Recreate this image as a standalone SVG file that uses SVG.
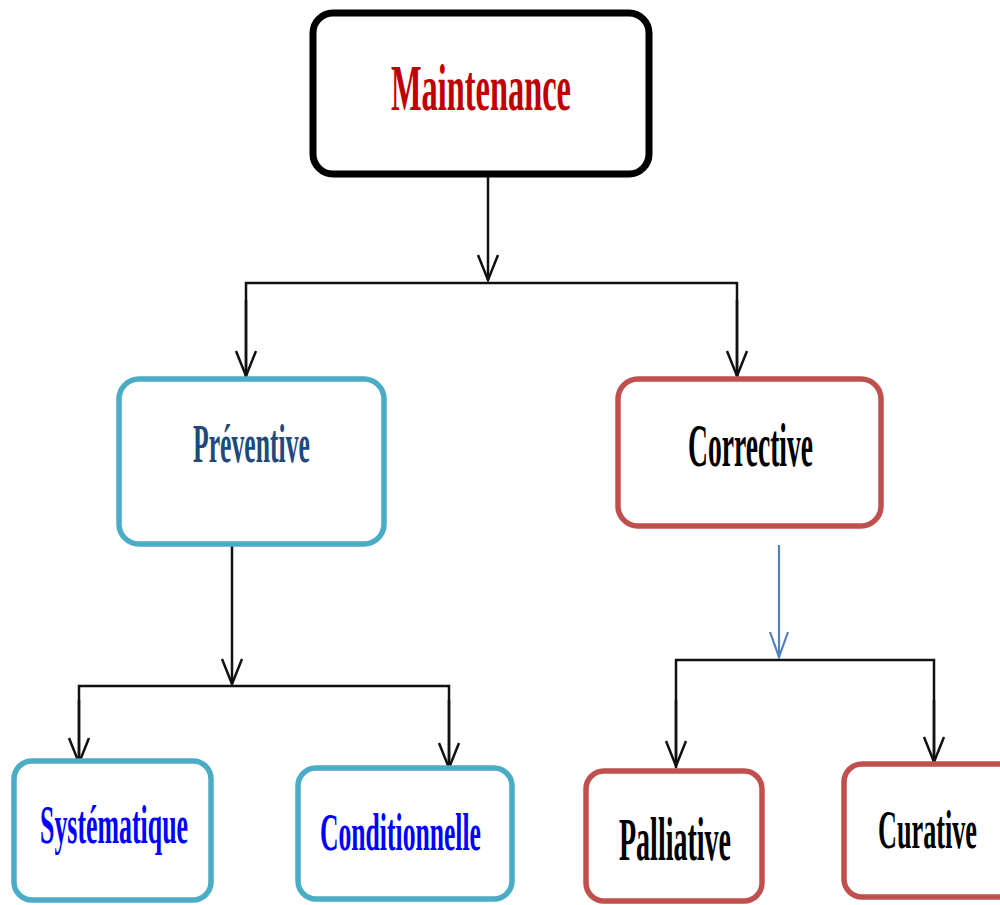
<svg xmlns="http://www.w3.org/2000/svg" width="1000" height="905" viewBox="0 0 1000 905">
<defs>
<marker id="arr" viewBox="-27 -12 30 24" markerWidth="30" markerHeight="24" refX="0" refY="0" orient="auto" markerUnits="userSpaceOnUse">
<path d="M-25,-10 L0,0 L-25,10" fill="none" stroke="#111" stroke-width="2.5"/>
</marker>
<marker id="arrb" viewBox="-27 -12 30 24" markerWidth="30" markerHeight="24" refX="0" refY="0" orient="auto" markerUnits="userSpaceOnUse">
<path d="M-25,-9 L0,0 L-25,9" fill="none" stroke="#4F81BD" stroke-width="2.2"/>
</marker>
</defs>
<style>
.box{fill:#fff}
.blk{stroke:#000;stroke-width:7}
.blu{stroke:#4BACC6;stroke-width:5.5}
.red{stroke:#C0504D;stroke-width:5.5}
.t{font-family:"Liberation Serif","Times New Roman",serif;font-weight:bold;text-anchor:start}
.c{fill:none;stroke:#111;stroke-width:2.5}
</style>
<g id="connectors">
<path class="c" d="M488,175 V280" marker-end="url(#arr)"/>
<path class="c" d="M246,378 V283 H737 V378" />
<path class="c" d="M246,300 V376" marker-end="url(#arr)"/>
<path class="c" d="M737,300 V376" marker-end="url(#arr)"/>
<path class="c" d="M232,545 V684" marker-end="url(#arr)"/>
<path class="c" d="M79,765 V686 H449 V770"/>
<path class="c" d="M79,700 V763" marker-end="url(#arr)"/>
<path class="c" d="M449,700 V768" marker-end="url(#arr)"/>
<path d="M779,545 V657" fill="none" stroke="#4F81BD" stroke-width="2.2" marker-end="url(#arrb)"/>
<path class="c" d="M676,768 V660 H934 V764"/>
<path class="c" d="M676,700 V766" marker-end="url(#arr)"/>
<path class="c" d="M934,700 V762" marker-end="url(#arr)"/>
</g>
<g id="maintenance">
<rect class="box blk" x="313" y="13" width="336" height="161" rx="20"/>
<text class="t" x="391" y="110" font-size="66" fill="#C00000" textLength="180" lengthAdjust="spacingAndGlyphs">Maintenance</text>
</g>
<g id="preventive">
<rect class="box blu" x="119" y="379" width="265" height="165" rx="20"/>
<text class="t" x="193" y="462" font-size="55" fill="#1F497D" textLength="117" lengthAdjust="spacingAndGlyphs">Préventive</text>
</g>
<g id="corrective">
<rect class="box red" x="618" y="379" width="263" height="147" rx="20"/>
<text class="t" x="688" y="466" font-size="62" fill="#000" textLength="125" lengthAdjust="spacingAndGlyphs">Corrective</text>
</g>
<g id="systematique">
<rect class="box blu" x="14" y="761" width="197" height="139" rx="18"/>
<text class="t" x="40" y="843" font-size="54" fill="#0000FF" textLength="148" lengthAdjust="spacingAndGlyphs">Systématique</text>
</g>
<g id="conditionnelle">
<rect class="box blu" x="298" y="768" width="214" height="131" rx="18"/>
<text class="t" x="320" y="850" font-size="53" fill="#0000FF" textLength="161" lengthAdjust="spacingAndGlyphs">Conditionnelle</text>
</g>
<g id="palliative">
<rect class="box red" x="586" y="771" width="176" height="130" rx="18"/>
<text class="t" x="619" y="860" font-size="62" fill="#000" textLength="112" lengthAdjust="spacingAndGlyphs">Palliative</text>
</g>
<g id="curative">
<rect class="box red" x="844" y="764" width="180" height="133" rx="18"/>
<text class="t" x="878" y="848" font-size="54" fill="#000" textLength="99" lengthAdjust="spacingAndGlyphs">Curative</text>
</g>
</svg>
